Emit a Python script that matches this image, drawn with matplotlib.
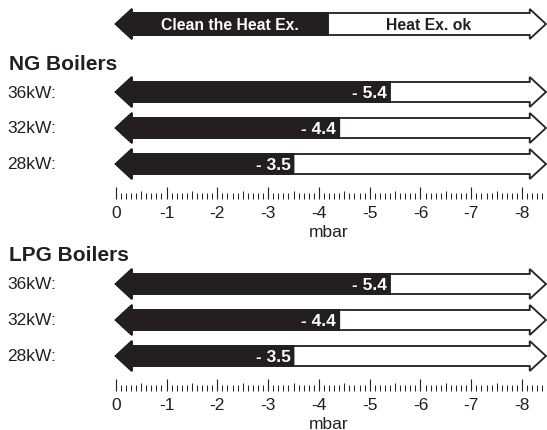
import numpy as np
import matplotlib
matplotlib.use("Agg")
import matplotlib.pyplot as plt
from matplotlib.patches import Polygon

plt.rcParams['font.family'] = ['Liberation Sans', 'DejaVu Sans']

# data
rows = ["36kW:", "32kW:", "28kW:"]
ng_values = [-5.4, -4.4, -3.5]
lpg_values = [-5.4, -4.4, -3.5]
tick_values = [0, -1, -2, -3, -4, -5, -6, -7, -8]
tick_labels = ["0", "-1", "-2", "-3", "-4", "-5", "-6", "-7", "-8"]
legend_labels = ["Clean the Heat Ex.", "Heat Ex. ok"]

BLACK = '#231f20'
W, H = 547, 431
PX = 50.8      # pixels per mbar
X0 = 115.7     # pixel position of 0
TIP_L, TIP_R, HEAD = 0.0, -8.47, 0.32

fig = plt.figure(figsize=(W / 100, H / 100), dpi=100)
ax = fig.add_axes([0, 0, 1, 1])
ax.set_xlim(X0 / PX, -(W - X0) / PX)
ax.set_ylim(H, 0)
ax.axis('off')


def arrow(yc, value, sh=10, hh=15):
    outline = [(TIP_L, yc), (TIP_L - HEAD, yc - hh), (TIP_L - HEAD, yc - sh),
               (TIP_R + HEAD, yc - sh), (TIP_R + HEAD, yc - hh), (TIP_R, yc),
               (TIP_R + HEAD, yc + hh), (TIP_R + HEAD, yc + sh),
               (TIP_L - HEAD, yc + sh), (TIP_L - HEAD, yc + hh)]
    ax.add_patch(Polygon(outline, closed=True, facecolor='white',
                         edgecolor=BLACK, lw=1.3, joinstyle='miter'))
    fill = [(TIP_L, yc), (TIP_L - HEAD, yc - hh), (TIP_L - HEAD, yc - sh),
            (value, yc - sh), (value, yc + sh), (TIP_L - HEAD, yc + sh),
            (TIP_L - HEAD, yc + hh)]
    ax.add_patch(Polygon(fill, closed=True, facecolor=BLACK,
                         edgecolor=BLACK, lw=1.3, joinstyle='miter'))


# legend arrow on top
split = -4.18
arrow(25, split, sh=11, hh=15)
ax.text((TIP_L - HEAD + split) / 2, 25.5, legend_labels[0], ha='center', va='center',
        color='white', fontsize=11.3, fontweight='bold')
ax.text((split + TIP_R + HEAD) / 2, 25.5, legend_labels[1], ha='center', va='center',
        color=BLACK, fontsize=11.3, fontweight='bold')


def group(title, values, y_title, y_first, y_ruler):
    ax.text(9 / W, y_title, title, transform=ax.get_yaxis_transform(),
            ha='left', va='center', fontsize=15, fontweight='bold', color=BLACK)
    for i, (lab, v) in enumerate(zip(rows, values)):
        yc = y_first + i * 36
        ax.text(7 / W, yc, lab, transform=ax.get_yaxis_transform(),
                ha='left', va='center', fontsize=12.5, color=BLACK)
        arrow(yc, v)
        ax.text(v + 3 / PX, yc + 0.5, "- %.1f" % abs(v), ha='right', va='center',
                color='white', fontsize=12.5, fontweight='bold')

    rax = fig.add_axes([X0 / W, 1 - y_ruler / H, 8.4 * PX / W, 14 / H])
    rax.set_xlim(0, -8.4)
    rax.set_ylim(0, 14)
    rax.patch.set_visible(False)
    for s in rax.spines.values():
        s.set_visible(False)
    rax.set_yticks([])
    rax.set_xticks(tick_values)
    rax.set_xticklabels(tick_labels)
    rax.set_xticks(np.arange(0, -8.45, -0.1), minor=True)
    rax.tick_params(axis='x', which='major', direction='in', length=8.5,
                    width=0.8, pad=4, labelsize=12.5, colors=BLACK)
    rax.tick_params(axis='x', which='minor', direction='in', length=4.3,
                    width=0.7, colors=BLACK)
    halves = np.arange(-0.5, -8.45, -1.0)
    rax.vlines(halves, 0, 8.5, colors=BLACK, lw=0.7)
    rax.set_xlabel("mbar", fontsize=12.5, labelpad=3, color=BLACK)


group("NG Boilers", ng_values, 64, 93, 200)
group("LPG Boilers", lpg_values, 256, 285, 392)

fig.savefig("out.png", dpi=100)
